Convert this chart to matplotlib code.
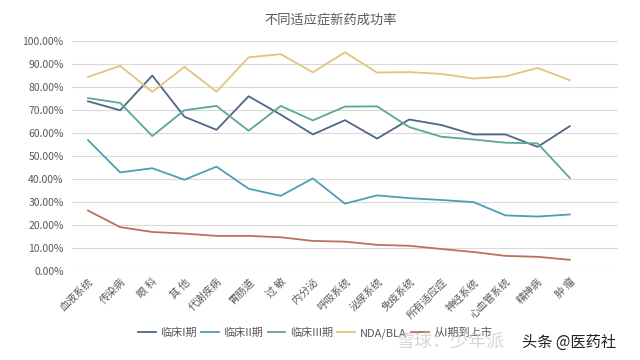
import matplotlib.pyplot as plt
from matplotlib.ticker import FuncFormatter

plt.rcParams['font.family'] = ['Noto Sans CJK SC', 'DejaVu Sans']

categories = ['血液系统', '传染病', '眼 科', '其 他', '代谢疾病', '胃肠道', '过 敏', '内分泌',
              '呼吸系统', '泌尿系统', '免疫系统', '所有适应症', '神经系统', '心血管系统', '精神病', '肿 瘤']

phase1 = [73.8, 69.9, 85.0, 67.1, 61.4, 76.0, 68.0, 59.4,
          65.6, 57.6, 65.9, 63.5, 59.4, 59.4, 54.0, 63.0]
phase2 = [56.9, 42.9, 44.7, 39.7, 45.4, 35.8, 32.7, 40.3,
          29.3, 32.9, 31.7, 30.9, 30.0, 24.2, 23.7, 24.6]
phase3 = [75.2, 73.1, 58.7, 69.9, 71.8, 61.0, 71.8, 65.5,
          71.5, 71.6, 62.6, 58.4, 57.2, 55.8, 55.5, 40.5]
nda_bla = [84.4, 89.2, 77.9, 88.8, 78.0, 92.9, 94.3, 86.4,
           95.1, 86.3, 86.5, 85.7, 83.7, 84.6, 88.3, 83.0]
loa = [26.3, 19.1, 17.0, 16.3, 15.3, 15.3, 14.7, 13.1,
       12.8, 11.4, 11.0, 9.6, 8.3, 6.6, 6.2, 4.9]

series = [
    ('临床I期', phase1, '#4f6688'),
    ('临床II期', phase2, '#4e9fb4'),
    ('临床III期', phase3, '#5ba793'),
    ('NDA/BLA', nda_bla, '#e2c47a'),
    ('从I期到上市', loa, '#b9705f'),
]

fig = plt.figure(figsize=(6.4, 3.6), dpi=100)
ax = fig.add_axes([0.1125, 0.247, 0.853, 0.639])

x = list(range(len(categories)))
for name, vals, color in series:
    ax.plot(x, vals, color=color, linewidth=1.3, label=name)

ax.set_ylim(0, 100)
ax.set_yticks(range(0, 101, 10))
ax.yaxis.set_major_formatter(FuncFormatter(lambda v, p: f'{v:.2f}%'))
ax.set_xlim(-0.5, 16.5)
ax.set_xticks(x)
ax.set_xticklabels(categories, rotation=45, ha='right', va='top', rotation_mode='anchor')
ax.grid(axis='y', color='#d9d9d9', linewidth=0.8)
ax.set_axisbelow(True)
for s in ax.spines.values():
    s.set_visible(False)
ax.tick_params(axis='both', length=0, labelsize=7.5, colors='#595959')
ax.tick_params(axis='y', pad=6)
ax.tick_params(axis='x', pad=4)

fig.text(0.516, 0.945, '不同适应症新药成功率', ha='center', va='center', fontsize=9.5, color='#595959')

ax.legend(loc='center', bbox_to_anchor=(0.445, -0.27), ncol=5, frameon=False,
          fontsize=8, handlelength=1.6, handletextpad=0.4, columnspacing=0.4,
          labelcolor='#595959')

# watermarks
fig.text(0.62, 0.05, '雪球：少年派', ha='left', va='center', fontsize=13, color='#cccccc', alpha=0.8)
fig.text(0.962, 0.05, '头条 @医药社', ha='right', va='center', fontsize=11, color='#222222')

fig.savefig('out.png', dpi=100)
